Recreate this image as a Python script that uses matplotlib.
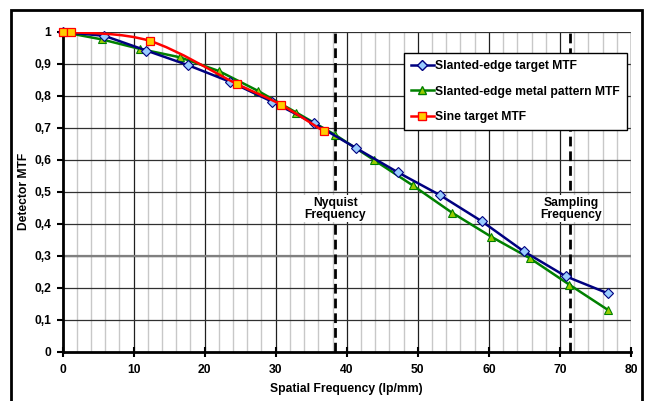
import numpy as np
import matplotlib
matplotlib.use('Agg')
import matplotlib.pyplot as plt
from matplotlib.path import Path
from matplotlib.patches import PathPatch, Rectangle
from matplotlib.lines import Line2D

plt.rcParams['font.family'] = ['Liberation Sans', 'DejaVu Sans']
plt.rcParams['font.weight'] = 'bold'

# Data
slanted_x = [0, 5.9, 11.8, 17.7, 23.6, 29.5, 35.4, 41.3, 47.2, 53.1, 59.0, 64.9, 70.8, 76.7]
slanted_y = [1.0, 0.988, 0.942, 0.896, 0.844, 0.782, 0.714, 0.637, 0.561, 0.490, 0.408, 0.314, 0.236, 0.183]

metal_x = [0, 5.5, 10.9, 16.5, 22.0, 27.5, 32.9, 38.4, 43.8, 49.3, 54.8, 60.3, 65.8, 71.3, 76.8]
metal_y = [1.0, 0.977, 0.947, 0.921, 0.878, 0.816, 0.748, 0.678, 0.600, 0.520, 0.435, 0.360, 0.292, 0.210, 0.130]

sine_x = [0, 1.2, 12.3, 24.5, 30.7, 36.8]
sine_y = [1.0, 1.0, 0.972, 0.838, 0.773, 0.689]

nyquist = 38.4
sampling = 71.4

x_ticks = [0, 10, 20, 30, 40, 50, 60, 70, 80]
y_ticks = [0, 0.1, 0.2, 0.3, 0.4, 0.5, 0.6, 0.7, 0.8, 0.9, 1.0]
y_tick_labels = ['0', '0,1', '0,2', '0,3', '0,4', '0,5', '0,6', '0,7', '0,8', '0,9', '1']

FS = 8.7


def smooth_path(xs, ys):
    # Excel-style smoothed line: cubic Bezier segments through the points
    pts = np.column_stack([xs, ys])
    n = len(pts)
    verts = [pts[0]]
    codes = [Path.MOVETO]
    for i in range(n - 1):
        p0 = pts[i - 1] if i > 0 else pts[i]
        p1 = pts[i]
        p2 = pts[i + 1]
        p3 = pts[i + 2] if i + 2 < n else pts[i + 1]
        c1 = p1 + (p2 - p0) / 6.0
        c2 = p2 - (p3 - p1) / 6.0
        verts += [c1, c2, p2]
        codes += [Path.CURVE4] * 3
    return Path(verts, codes)


fig = plt.figure(figsize=(6.46, 4.01), dpi=100)
ax = fig.add_axes([62.5 / 646, (401 - 351.7) / 401, (631 - 62.5) / 646, (351.7 - 32) / 401])

ax.set_xlim(0, 80)
ax.set_ylim(0, 1)

# grid
for xv in np.arange(2, 80, 2):
    if xv % 10 != 0:
        ax.axvline(xv, color='#c8c8c8', lw=1.0, zorder=0)
for xv in x_ticks[1:]:
    ax.axvline(xv, color='#202020', lw=0.9, zorder=0.5)
for yv in y_ticks[1:]:
    ax.axhline(yv, color='#303030', lw=0.9, zorder=0.5)
ax.axhline(0.3, color='#808080', lw=1.6, zorder=0.6)
ax.axvline(80, color='#909090', lw=1.0, zorder=0.5)

ax.axvline(nyquist, color='black', lw=2.0, ls=(0, (3.5, 1.8)), zorder=2)
ax.axvline(sampling, color='black', lw=2.0, ls=(0, (3.5, 1.8)), zorder=2)

# series
ax.plot(slanted_x, slanted_y, color='#000080', lw=1.8, marker='D', markersize=4.8,
        markerfacecolor='#99ccff', markeredgecolor='#000080', markeredgewidth=0.8,
        zorder=4, clip_on=False)
ax.plot(metal_x, metal_y, color='#008000', lw=1.8, marker='^', markersize=6,
        markerfacecolor='#99cc00', markeredgecolor='#008000', markeredgewidth=0.8,
        zorder=3, clip_on=False)
ax.add_patch(PathPatch(smooth_path(sine_x, sine_y), facecolor='none', edgecolor='#ff0000',
                       lw=1.8, zorder=5))
ax.plot(sine_x, sine_y, ls='none', marker='s', markersize=5.5,
        markerfacecolor='#ffcc00', markeredgecolor='#ff0000', markeredgewidth=0.9,
        zorder=9, clip_on=False)

# annotations
bbox = dict(facecolor='white', edgecolor='none', pad=1.0)
ax.text(nyquist, 0.447, 'Nyquist\nFrequency', ha='center', va='center', fontsize=FS,
        fontweight='bold', linespacing=1.05, zorder=7, bbox=bbox)
ax.text(sampling + 0.2, 0.447, 'Sampling\nFrequency', ha='center', va='center', fontsize=FS,
        fontweight='bold', linespacing=1.05, zorder=7, bbox=bbox)

# axes styling
for side in ['top', 'right']:
    ax.spines[side].set_visible(False)
ax.spines['left'].set_linewidth(2.0)
ax.spines['bottom'].set_linewidth(2.0)
ax.spines['left'].set_zorder(8)
ax.spines['bottom'].set_zorder(8)

ax.set_xticks(x_ticks)
ax.set_yticks(y_ticks)
ax.set_yticklabels(y_tick_labels)
ax.tick_params(axis='y', direction='out', length=4, width=1.5, labelsize=FS, pad=4)
ax.tick_params(axis='x', direction='inout', length=7, width=1.5, labelsize=FS, pad=5)
for lbl in ax.get_xticklabels() + ax.get_yticklabels():
    lbl.set_fontweight('bold')

ax.set_xlabel('Spatial Frequency (lp/mm)', fontsize=FS, fontweight='bold')
ax.set_ylabel('Detector MTF', fontsize=FS, fontweight='bold')
ax.xaxis.set_label_coords(0.5, -0.098)
ax.yaxis.set_label_coords(-0.058, 0.5)

# legend
handles = [
    Line2D([], [], color='#000080', lw=1.8, marker='D', markersize=4.8,
           markerfacecolor='#99ccff', markeredgecolor='#000080'),
    Line2D([], [], color='#008000', lw=1.8, marker='^', markersize=6,
           markerfacecolor='#99cc00', markeredgecolor='#008000'),
    Line2D([], [], color='#ff0000', lw=1.8, marker='s', markersize=5.5,
           markerfacecolor='#ffcc00', markeredgecolor='#ff0000'),
]
labels = ['Slanted-edge target MTF', 'Slanted-edge metal pattern MTF', 'Sine target MTF']
leg = ax.legend(handles, labels, loc='upper left',
                bbox_to_anchor=((404 - 62.5) / 568.5, (351.7 - 53) / 319.7),
                fancybox=False, framealpha=1, edgecolor='black', fontsize=FS,
                handlelength=1.85, handletextpad=0.15, labelspacing=1.1, borderpad=0.6,
                borderaxespad=0)
leg.get_frame().set_linewidth(1.0)
leg.set_zorder(10)
for t in leg.get_texts():
    t.set_fontweight('bold')

# outer chart border
fig.add_artist(Rectangle((11 / 646, -0.05), (642 - 11) / 646, (401 - 10) / 401 + 0.05,
                         transform=fig.transFigure, fill=False, edgecolor='black', lw=2.0))

fig.savefig('out.png', dpi=100)
